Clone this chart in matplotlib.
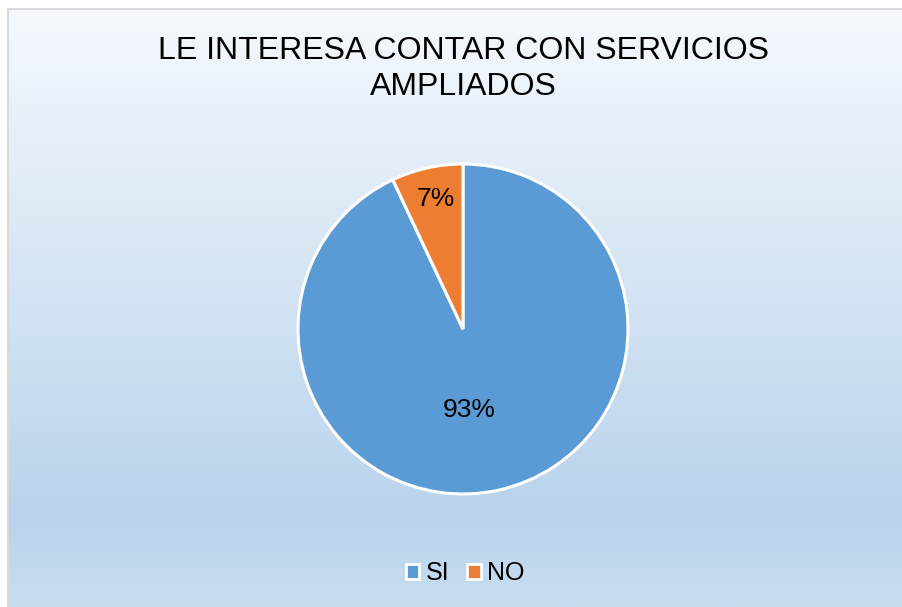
import numpy as np
import matplotlib
matplotlib.use("Agg")
import matplotlib.pyplot as plt
from matplotlib.colors import LinearSegmentedColormap
from matplotlib.patches import Patch
from matplotlib.lines import Line2D

categories = ["SI", "NO"]
values = [93, 7]
colors = ["#5b9bd5", "#ed7d31"]
title = "LE INTERESA CONTAR CON SERVICIOS\nAMPLIADOS"

plt.rcParams['font.family'] = ['Liberation Sans', 'DejaVu Sans']

W, H = 903, 607
fig = plt.figure(figsize=(W / 100, H / 100), dpi=100)
fig.patch.set_facecolor("white")

# background gradient panel
bx0, by0 = 8 / W, 0
bw, bh = 1 - bx0, (H - 9) / H
bg = fig.add_axes([bx0, by0, bw, bh])
cmap = LinearSegmentedColormap.from_list(
    "bg", [(0.0, "#f5f9fd"), (0.85, "#b9d3ec"), (1.0, "#c8ddf0")])
grad = np.linspace(0, 1, 256).reshape(-1, 1)
bg.imshow(grad, aspect="auto", cmap=cmap, extent=[0, 1, 0, 1], origin="upper")
bg.set_xlim(0, 1)
bg.set_ylim(0, 1)
bg.set_axis_off()
# light gray border on left and top
fig.add_artist(Line2D([bx0, bx0, 1.0], [0, bh, bh], transform=fig.transFigure,
                      color="#d9d9d9", linewidth=1.5))

# pie
cx, cy, r = 463, H - 329, 165
ax = fig.add_axes([(cx - r) / W, (cy - r) / H, 2 * r / W, 2 * r / H])
wedges, texts, autotexts = ax.pie(
    values, colors=colors, startangle=90, counterclock=False,
    autopct="%1.0f%%", pctdistance=0.8,
    wedgeprops=dict(edgecolor="white", linewidth=2.2, clip_on=False),
    textprops=dict(fontsize=19, color="black"))
ax.set_xlim(-1, 1)
ax.set_ylim(-1, 1)
ax.set_aspect("equal")
ax.set_axis_off()
autotexts[0].set_position((0.04, -0.49))
autotexts[1].set_position((-0.165, 0.79))

fig.text(0.513, 1 - 69 / H, title, ha="center", va="center",
         fontsize=23, color="black", linespacing=1.3)

handles = [Patch(facecolor=c, edgecolor="white", linewidth=2) for c in colors]
fig.legend(handles, categories, loc="center", bbox_to_anchor=(0.515, (H - 573) / H),
           ncol=2, frameon=False, fontsize=18, handlelength=0.55, handleheight=0.55,
           handletextpad=0.25, columnspacing=0.7)

fig.savefig("out.png", dpi=100)
